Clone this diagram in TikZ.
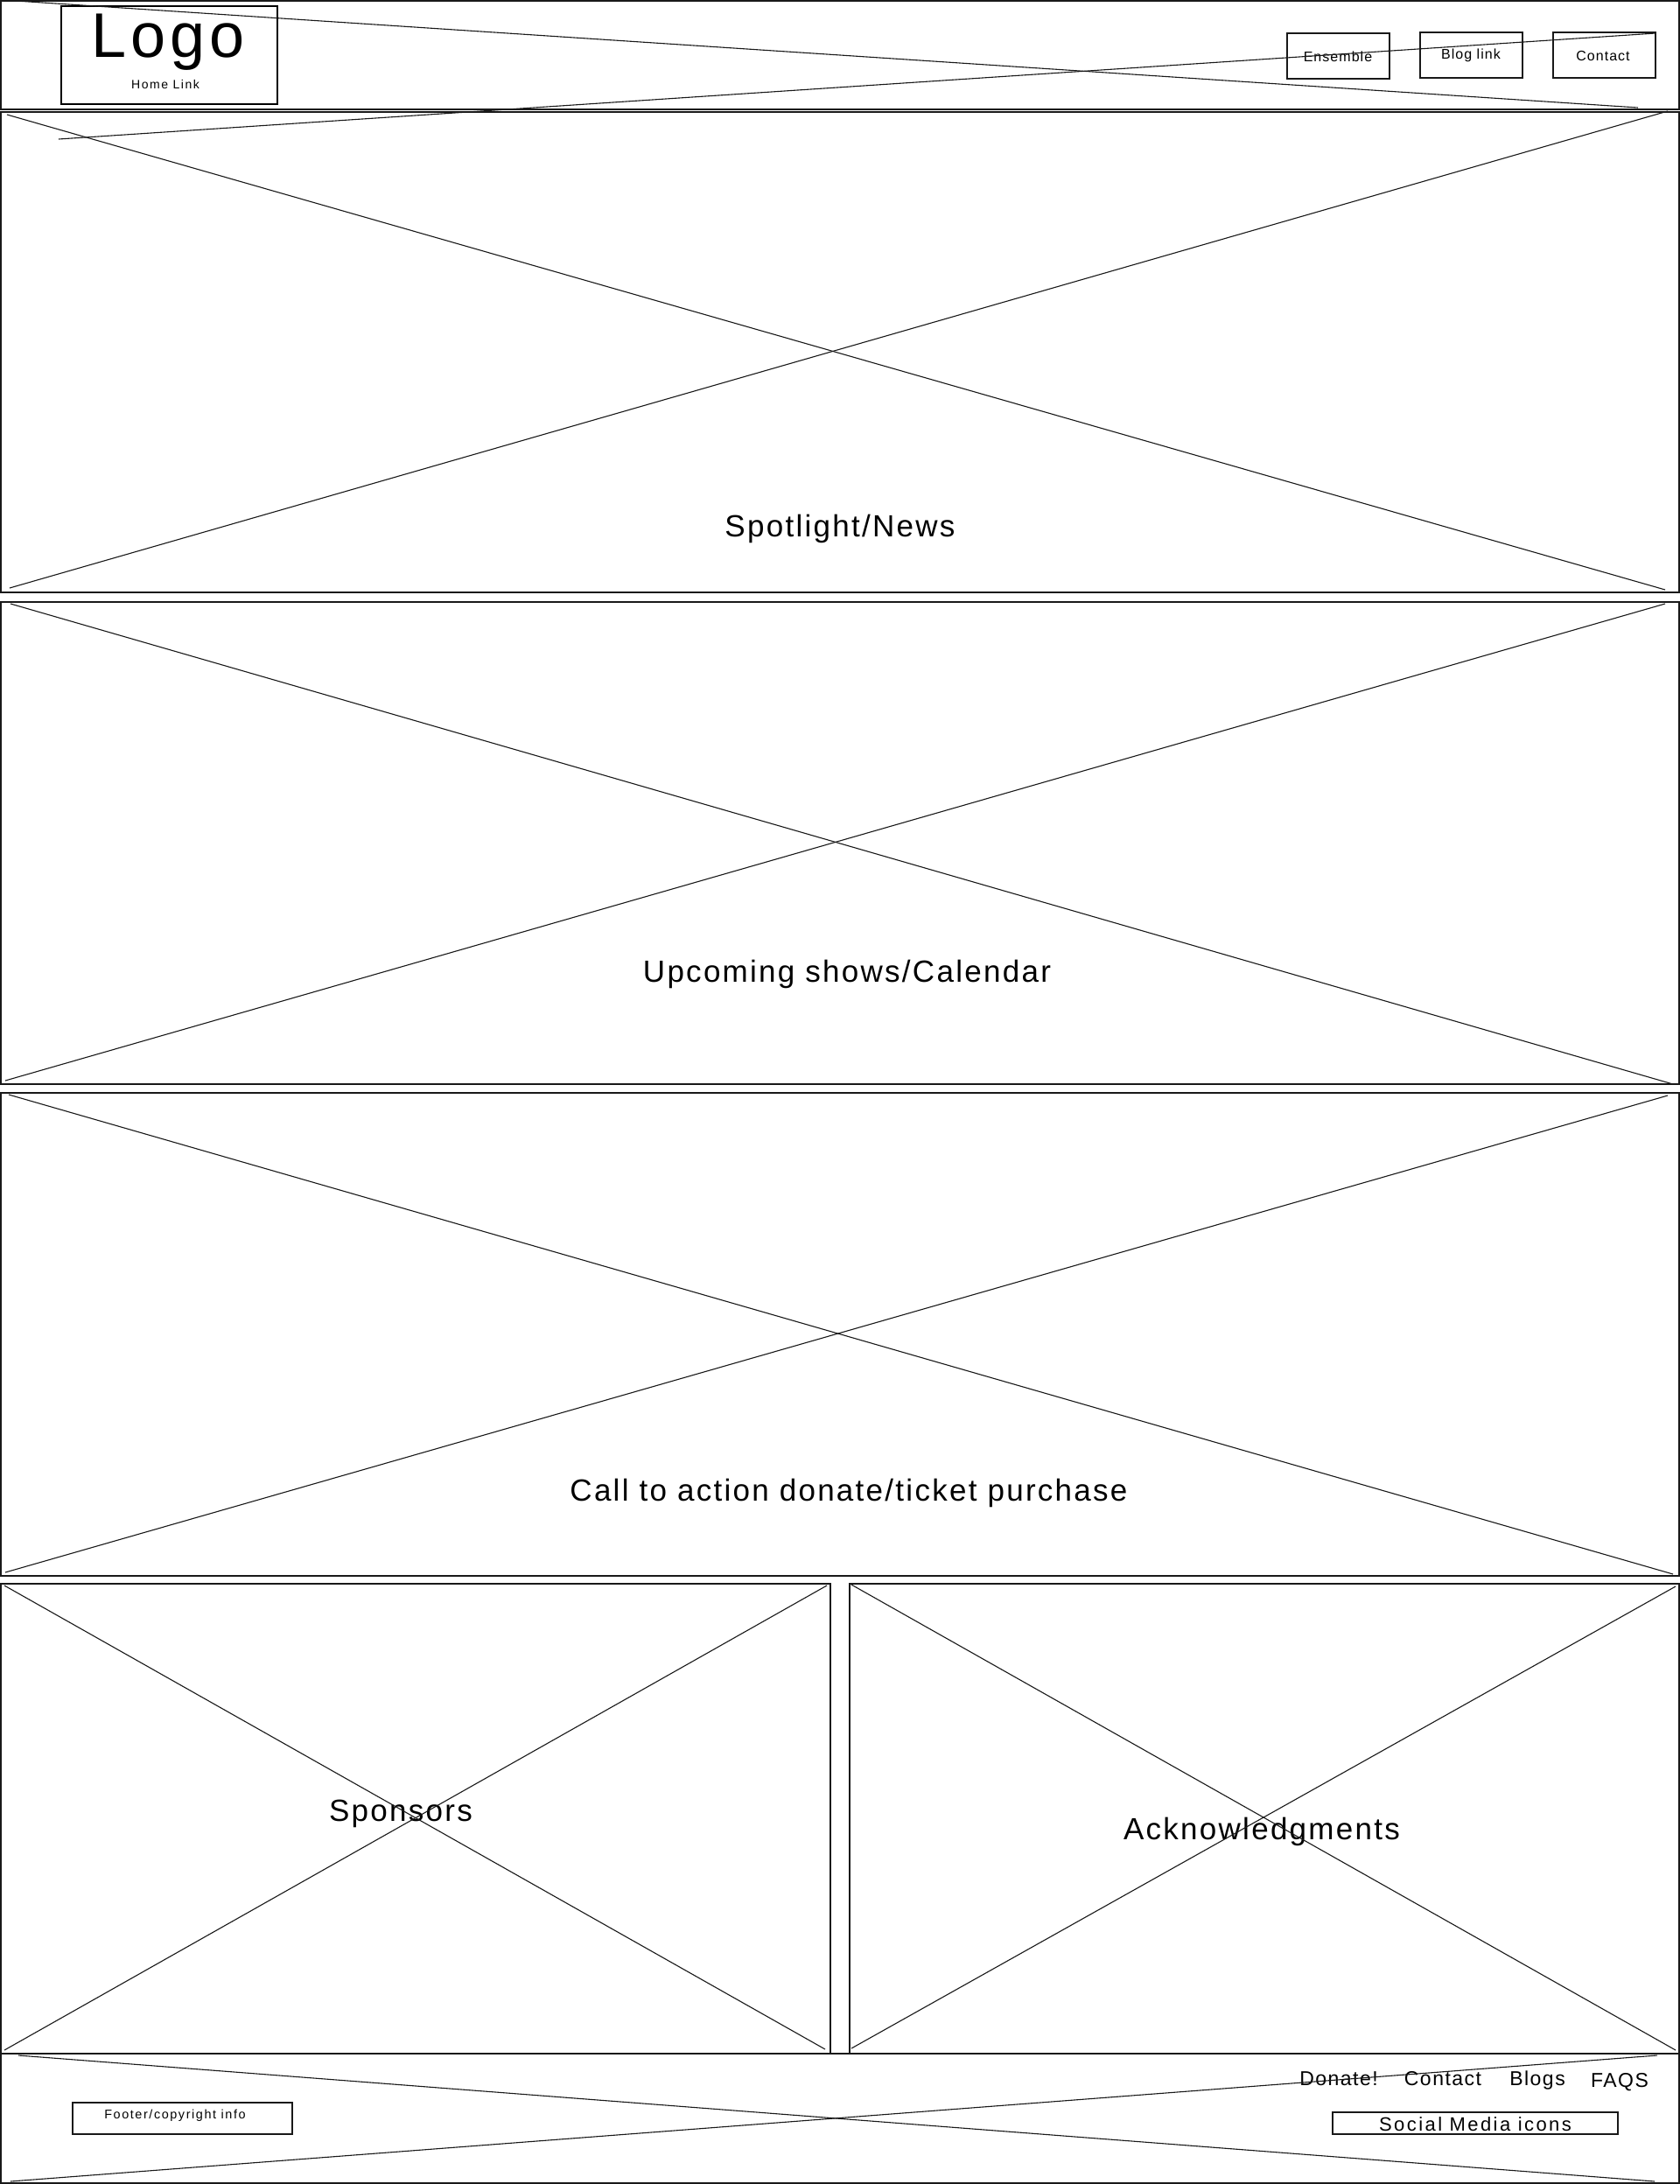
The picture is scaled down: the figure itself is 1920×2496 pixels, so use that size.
\documentclass[tikz,border=0pt]{standalone}
\usepackage{fontspec}
\setmainfont{Liberation Sans}
\newfontfamily\wirefont[LetterSpace=6.5]{Liberation Sans}
\newfontfamily\wirefontwide[LetterSpace=11]{Liberation Sans}

\tikzset{
  panel/.style={draw=black!90, line width=0.75pt},
  cross/.style={draw=black!90, line width=0.55pt},
  linkbox/.style={draw=black!90, line width=0.55pt},
  lbl/.style={anchor=base, inner sep=0pt, font=\wirefont\fontsize{#1}{#1}\selectfont},
  widelbl/.style={anchor=base, inner sep=0pt, font=\wirefontwide\fontsize{#1}{#1}\selectfont}
}

\begin{document}
\begin{tikzpicture}[x=0.5pt,y=-0.5pt]
\useasboundingbox (0,0) rectangle (1920,2496);
\fill[white] (0,0) rectangle (1920,2496);

\draw[panel] (1,1) rectangle (1919,125);
\draw[panel] (1,128) rectangle (1919,677);
\draw[panel] (1,688) rectangle (1919,1239);
\draw[panel] (1,1249) rectangle (1919,1801);
\draw[panel] (1,1810) rectangle (949,2347);
\draw[panel] (971,1810) rectangle (1919,2347);
\draw[panel] (1,2347) rectangle (1919,2495);

\draw[line width=1.25pt] (70,7) rectangle (317,119);
\draw[linkbox] (1471,38) rectangle (1588,90);
\draw[linkbox] (1623,37) rectangle (1740,89);
\draw[linkbox] (1775,37) rectangle (1892,89);
\draw[linkbox] (83,2403) rectangle (334,2439);
\draw[linkbox] (1523,2414) rectangle (1849,2439);

\node[lbl=36] (logo) at (192,65) {Logo};
\node[widelbl=7] (home) at (189,101) {Home Link};
\node[lbl=8] (ensemble) at (1529,70) {Ensemble};
\node[lbl=8] (blog) at (1681,67) {Blog link};
\node[lbl=8] (contact) at (1832,69) {Contact};

\node[lbl=17.5] (spot) at (960,613) {Spotlight/News};
\node[lbl=17.5] (shows) at (968,1122) {Upcoming shows/Calendar};
\node[lbl=17.5] (cta) at (970,1715) {Call to action donate/ticket purchase};
\node[lbl=17.5] (sponsors) at (458,2081) {Sponsors};
\node[lbl=17.5] (ack) at (1442,2102) {Acknowledgments};

\node[lbl=11.5] (donate) at (1530,2383) {Donate!};
\node[lbl=11.5] (fcontact) at (1649,2383) {Contact};
\node[lbl=11.5] (blogs) at (1757,2383) {Blogs};
\node[lbl=11.5] (faqs) at (1851,2385) {FAQS};
\node[widelbl=11] (social) at (1686,2435) {Social Media icons};
\node[widelbl=7.2] (copy) at (200,2421) {Footer/copyright info};

\draw[cross] (18,1) -- (1872,123);
\draw[cross] (67,159) -- (1892,38);
\draw[cross] (8,131) -- (1903,674);
\draw[cross] (1906,127) -- (11,672);
\draw[cross] (12,690) -- (1912,1239);
\draw[cross] (1903,690) -- (6,1235);
\draw[cross] (10,1251) -- (1912,1799);
\draw[cross] (1906,1252) -- (6,1797);
\draw[cross] (5,1812) -- (943,2342);
\draw[cross] (945,1812) -- (5,2343);
\draw[cross] (973,1811) -- (1915,2343);
\draw[cross] (1915,1813) -- (973,2341);
\draw[cross] (21,2349) -- (1891,2493);
\draw[cross] (1894,2349) -- (12,2493);
\end{tikzpicture}
\end{document}
